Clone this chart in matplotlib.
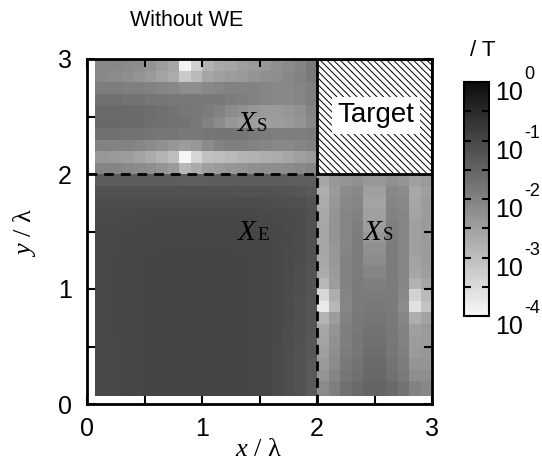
import numpy as np
import matplotlib
matplotlib.use("Agg")
import matplotlib.pyplot as plt
from matplotlib.colors import LogNorm, LinearSegmentedColormap
from matplotlib.patches import Rectangle
from matplotlib.ticker import FixedLocator, NullFormatter

plt.rcParams['font.family'] = ['Liberation Sans', 'DejaVu Sans']
plt.rcParams['mathtext.fontset'] = 'custom'
plt.rcParams['mathtext.rm'] = 'Liberation Serif'
plt.rcParams['mathtext.it'] = 'Liberation Serif:italic'
plt.rcParams['mathtext.sf'] = 'Liberation Sans'
plt.rcParams['hatch.linewidth'] = 0.7

# ---- data: log10(T), rows from bottom (y small) to top ----
# lower-left block X_E: y 0.07..2.0 (19 rows) x 0.07..2.0 (19 cols)
lower_left = [
    [-1.02,-1.02,-1.00,-1.00,-0.98,-0.98,-0.97,-0.97,-0.97,-0.97,-0.97,-0.97,-0.98,-0.99,-1.00,-1.05,-1.12,-1.20,-1.30],
    [-1.02,-1.02,-1.00,-1.00,-0.98,-0.98,-0.97,-0.97,-0.97,-0.97,-0.97,-0.97,-0.98,-0.99,-1.00,-1.05,-1.12,-1.20,-1.30],
    [-1.02,-1.02,-1.00,-1.00,-0.98,-0.98,-0.97,-0.97,-0.97,-0.97,-0.97,-0.97,-0.98,-0.99,-1.00,-1.05,-1.12,-1.20,-1.30],
    [-1.02,-1.02,-1.00,-1.00,-0.98,-0.97,-0.96,-0.96,-0.96,-0.96,-0.96,-0.97,-0.98,-0.99,-1.00,-1.05,-1.11,-1.19,-1.28],
    [-1.02,-1.02,-1.00,-1.00,-0.98,-0.97,-0.96,-0.96,-0.96,-0.96,-0.96,-0.97,-0.98,-0.99,-1.00,-1.04,-1.10,-1.18,-1.27],
    [-1.02,-1.01,-1.00,-0.99,-0.98,-0.97,-0.96,-0.96,-0.96,-0.96,-0.96,-0.97,-0.98,-0.99,-1.00,-1.04,-1.10,-1.17,-1.26],
    [-1.02,-1.01,-1.00,-0.99,-0.98,-0.97,-0.96,-0.96,-0.96,-0.96,-0.96,-0.97,-0.98,-0.99,-1.00,-1.03,-1.09,-1.16,-1.25],
    [-1.02,-1.01,-1.00,-0.99,-0.98,-0.97,-0.96,-0.96,-0.96,-0.96,-0.96,-0.97,-0.98,-0.99,-1.00,-1.03,-1.08,-1.15,-1.24],
    [-1.02,-1.01,-1.00,-0.99,-0.98,-0.97,-0.96,-0.96,-0.96,-0.96,-0.96,-0.97,-0.98,-0.99,-1.00,-1.03,-1.08,-1.14,-1.23],
    [-1.02,-1.01,-1.00,-0.99,-0.98,-0.97,-0.96,-0.96,-0.96,-0.96,-0.96,-0.97,-0.98,-0.99,-1.00,-1.02,-1.07,-1.13,-1.22],
    [-1.02,-1.01,-1.00,-0.99,-0.98,-0.97,-0.97,-0.97,-0.97,-0.97,-0.97,-0.97,-0.98,-0.99,-1.00,-1.02,-1.06,-1.12,-1.21],
    [-1.02,-1.01,-1.00,-0.99,-0.98,-0.97,-0.97,-0.97,-0.97,-0.97,-0.97,-0.98,-0.98,-0.99,-1.00,-1.02,-1.05,-1.10,-1.19],
    [-1.03,-1.02,-1.01,-1.00,-0.99,-0.98,-0.98,-0.98,-0.98,-0.98,-0.98,-0.98,-0.99,-0.99,-1.00,-1.02,-1.05,-1.09,-1.17],
    [-1.03,-1.02,-1.01,-1.00,-0.99,-0.99,-0.99,-0.99,-0.99,-0.99,-0.99,-0.99,-0.99,-1.00,-1.01,-1.02,-1.04,-1.08,-1.15],
    [-1.04,-1.03,-1.02,-1.01,-1.00,-1.00,-1.00,-1.00,-1.00,-1.00,-1.00,-1.00,-1.00,-1.01,-1.02,-1.03,-1.05,-1.08,-1.15],
    [-1.05,-1.05,-1.04,-1.03,-1.02,-1.02,-1.02,-1.02,-1.02,-1.02,-1.02,-1.02,-1.02,-1.03,-1.04,-1.05,-1.07,-1.10,-1.16],
    [-1.10,-1.10,-1.09,-1.09,-1.08,-1.08,-1.08,-1.08,-1.08,-1.08,-1.08,-1.08,-1.08,-1.09,-1.10,-1.11,-1.13,-1.16,-1.22],
    [-1.18,-1.18,-1.18,-1.18,-1.18,-1.18,-1.18,-1.18,-1.18,-1.18,-1.18,-1.18,-1.19,-1.19,-1.20,-1.21,-1.23,-1.26,-1.30],
    [-1.35,-1.35,-1.35,-1.35,-1.35,-1.36,-1.37,-1.40,-1.40,-1.38,-1.37,-1.36,-1.36,-1.36,-1.37,-1.38,-1.39,-1.40,-1.42],
]

# lower-right block X_S: y 0.07..2.0 (19 rows) x 2.0..3.0 (10 cols)
lower_right = [
    [-2.15,-1.95,-1.70,-1.60,-1.50,-1.50,-1.60,-1.75,-2.00,-2.10],
    [-2.30,-2.05,-1.80,-1.70,-1.55,-1.55,-1.70,-1.85,-2.20,-2.20],
    [-2.40,-2.15,-1.85,-1.75,-1.60,-1.60,-1.75,-1.90,-2.30,-2.30],
    [-2.50,-2.20,-1.90,-1.80,-1.65,-1.65,-1.80,-1.95,-2.40,-2.35],
    [-2.55,-2.25,-1.95,-1.82,-1.70,-1.70,-1.82,-2.00,-2.45,-2.40],
    [-2.60,-2.30,-1.95,-1.85,-1.75,-1.75,-1.85,-2.00,-2.50,-2.40],
    [-2.85,-2.45,-2.00,-1.85,-1.80,-1.80,-1.85,-2.05,-2.75,-2.55],
    [-3.75,-2.90,-2.05,-1.88,-1.85,-1.85,-1.88,-2.15,-3.60,-3.10],
    [-3.45,-2.75,-2.05,-1.88,-1.90,-1.90,-1.88,-2.10,-3.35,-2.95],
    [-2.90,-2.45,-2.00,-1.88,-1.95,-1.95,-1.88,-2.05,-2.80,-2.60],
    [-2.70,-2.40,-2.00,-1.90,-2.05,-2.05,-1.90,-2.05,-2.60,-2.50],
    [-2.65,-2.35,-2.00,-1.90,-2.15,-2.15,-1.90,-2.05,-2.55,-2.45],
    [-2.60,-2.35,-2.05,-1.90,-2.25,-2.25,-1.90,-2.05,-2.50,-2.45],
    [-2.60,-2.30,-2.05,-1.92,-2.35,-2.35,-1.92,-2.05,-2.50,-2.40],
    [-2.60,-2.30,-2.05,-1.95,-2.45,-2.45,-1.95,-2.05,-2.50,-2.40],
    [-2.65,-2.30,-2.05,-2.00,-2.50,-2.50,-2.00,-2.05,-2.55,-2.45],
    [-2.70,-2.35,-2.10,-2.05,-2.55,-2.55,-2.05,-2.10,-2.60,-2.45],
    [-2.75,-2.40,-2.15,-2.10,-2.50,-2.50,-2.10,-2.15,-2.65,-2.50],
    [-2.60,-2.35,-2.30,-2.25,-2.35,-2.35,-2.25,-2.30,-2.50,-2.40],
]

# upper-left block X_S: y 2.0..3.0 (10 rows) x 0.07..2.0 (19 cols)
top_left = [
    [-2.05,-2.05,-2.10,-2.15,-2.20,-2.30,-2.40,-2.90,-2.70,-2.50,-2.40,-2.35,-2.30,-2.25,-2.20,-2.20,-2.15,-2.10,-2.05],
    [-2.35,-2.40,-2.45,-2.55,-2.70,-2.85,-3.00,-3.95,-3.40,-3.05,-3.00,-2.95,-2.85,-2.80,-2.75,-2.70,-2.60,-2.50,-2.40],
    [-2.00,-2.00,-2.02,-2.05,-2.15,-2.25,-2.35,-2.45,-2.35,-2.15,-2.00,-1.95,-1.95,-2.00,-2.05,-2.10,-2.10,-2.05,-2.00],
    [-1.70,-1.70,-1.72,-1.75,-1.78,-1.80,-1.82,-1.85,-1.85,-1.80,-1.78,-1.78,-1.80,-1.85,-1.90,-1.95,-1.95,-1.95,-1.90],
    [-1.58,-1.58,-1.60,-1.62,-1.68,-1.70,-1.72,-1.75,-1.85,-2.00,-2.15,-2.35,-2.45,-2.50,-2.50,-2.45,-2.40,-2.30,-2.10],
    [-1.60,-1.60,-1.60,-1.62,-1.65,-1.70,-1.75,-1.80,-1.85,-1.90,-2.00,-2.15,-2.25,-2.35,-2.40,-2.40,-2.35,-2.25,-2.05],
    [-1.70,-1.70,-1.75,-1.75,-1.80,-1.80,-1.85,-1.85,-1.85,-1.85,-1.85,-1.90,-1.95,-2.00,-2.05,-2.10,-2.10,-2.05,-1.95],
    [-1.90,-1.90,-1.95,-1.95,-2.00,-2.05,-2.10,-2.20,-2.20,-2.10,-2.05,-2.00,-2.00,-2.00,-2.05,-2.10,-2.10,-2.05,-1.95],
    [-2.10,-2.15,-2.20,-2.30,-2.40,-2.55,-2.70,-3.20,-2.95,-2.60,-2.50,-2.45,-2.40,-2.30,-2.25,-2.20,-2.10,-2.00,-1.85],
    [-2.10,-2.10,-2.15,-2.20,-2.30,-2.45,-2.60,-3.90,-3.30,-2.80,-2.65,-2.60,-2.50,-2.40,-2.35,-2.25,-2.15,-2.05,-1.85],
]

x_ticks = [0, 0.5, 1, 1.5, 2, 2.5, 3]
x_ticklabels = ['0', '', '1', '', '2', '', '3']
y_ticks = [0, 0.5, 1, 1.5, 2, 2.5, 3]
y_ticklabels = ['0', '', '1', '', '2', '', '3']
cbar_major = [1e-4, 1e-3, 1e-2, 1e-1, 1e0]
cbar_exponents = ['-4', '-3', '-2', '-1', '0']
cbar_minor = [10**-3.5, 10**-2.5, 10**-1.5, 10**-0.5]

# ---- assemble grid ----
nan_block = [[np.nan] * 10 for _ in range(10)]
rows = [a + b for a, b in zip(lower_left, lower_right)] + \
       [a + b for a, b in zip(top_left, nan_block)]
Z = np.ma.masked_invalid(10.0 ** np.array(rows))
edges = [0.07] + [k / 10 for k in range(2, 31)]

fig = plt.figure(figsize=(5.42, 4.67), dpi=100)
W, H = 542, 467
ax = fig.add_axes([87 / W, (H - 404) / H, 345 / W, 345 / H])

cmap = LinearSegmentedColormap.from_list('grey', ['#f8f8f8', '#0c0c0c'])
norm = LogNorm(vmin=1e-4, vmax=1e0)
pm = ax.pcolormesh(edges, edges, Z, cmap=cmap, norm=norm, shading='flat')

ax.set_xlim(0, 3)
ax.set_ylim(0, 3)
ax.set_xticks(x_ticks)
ax.set_xticklabels(x_ticklabels)
ax.set_yticks(y_ticks)
ax.set_yticklabels(y_ticklabels)
ax.tick_params(direction='in', top=True, right=True, length=6, width=1.5,
               labelsize=18)
ax.tick_params(axis='x', pad=9)
ax.tick_params(axis='y', pad=11)
for s in ax.spines.values():
    s.set_linewidth(2)
    s.set_zorder(5)

# dashed region borders
ax.plot([0, 2], [2, 2], color='black', lw=2, ls=(0, (3.5, 2.5)), zorder=4)
ax.plot([2, 2], [0, 2], color='black', lw=2, ls=(0, (3.5, 2.5)), zorder=4)

# target box
ax.add_patch(Rectangle((2, 2), 1, 1, facecolor='white', edgecolor='black',
                       hatch='\\' * 5, lw=2, zorder=3))
ax.text(2.51, 2.51, 'Target', ha='center', va='center', fontsize=20, zorder=6,
        bbox=dict(facecolor='white', edgecolor='none', pad=4))

# region labels
def region_label(x, y, sub):
    ax.text(x, y, 'X', ha='right', va='baseline', fontsize=21,
            family='Liberation Serif', style='italic', zorder=6)
    ax.text(x + 0.01, y, sub, ha='left', va='baseline', fontsize=13.5,
            family='Liberation Serif', zorder=6)

region_label(1.47, 2.37, 'S')
region_label(1.47, 1.43, 'E')
region_label(2.56, 1.43, 'S')

fig.text(259 / W, (H - 450) / H, r'$x$ / λ', ha='center', va='center',
         fontsize=19, family='Liberation Serif')
fig.text(25 / W, (H - 232) / H, r'$y$ / λ', ha='center', va='center',
         fontsize=19, family='Liberation Serif', rotation=90)

fig.text(187 / W, (H - 20) / H, 'Without WE', ha='center', va='center', fontsize=15.5)

# colorbar
cax = fig.add_axes([464 / W, (H - 316) / H, 25 / W, 234 / H])
cb = fig.colorbar(pm, cax=cax)
cb.outline.set_linewidth(1.5)
cax.yaxis.set_major_locator(FixedLocator(cbar_major))
cax.yaxis.set_minor_locator(FixedLocator(cbar_minor))
cax.set_yticklabels([''] * len(cbar_major))
cax.yaxis.set_minor_formatter(NullFormatter())
cax.tick_params(which='both', direction='in', left=True, right=True,
                length=5, width=1.5)
for val, ex in zip(cbar_major, cbar_exponents):
    t10 = cax.annotate('10', xy=(1.0, val), xycoords=('axes fraction', 'data'),
                       xytext=(4.5, -8), textcoords='offset points',
                       ha='left', va='center', fontsize=18, annotation_clip=False)
    cax.annotate(ex, xy=(1.0, 0.92), xycoords=t10, xytext=(0.5, 0),
                 textcoords='offset points', ha='left', va='bottom', fontsize=13,
                 annotation_clip=False)
fig.text(483 / W, (H - 50) / H, '/ T', ha='center', va='center', fontsize=16)

fig.savefig('out.png', dpi=100)
